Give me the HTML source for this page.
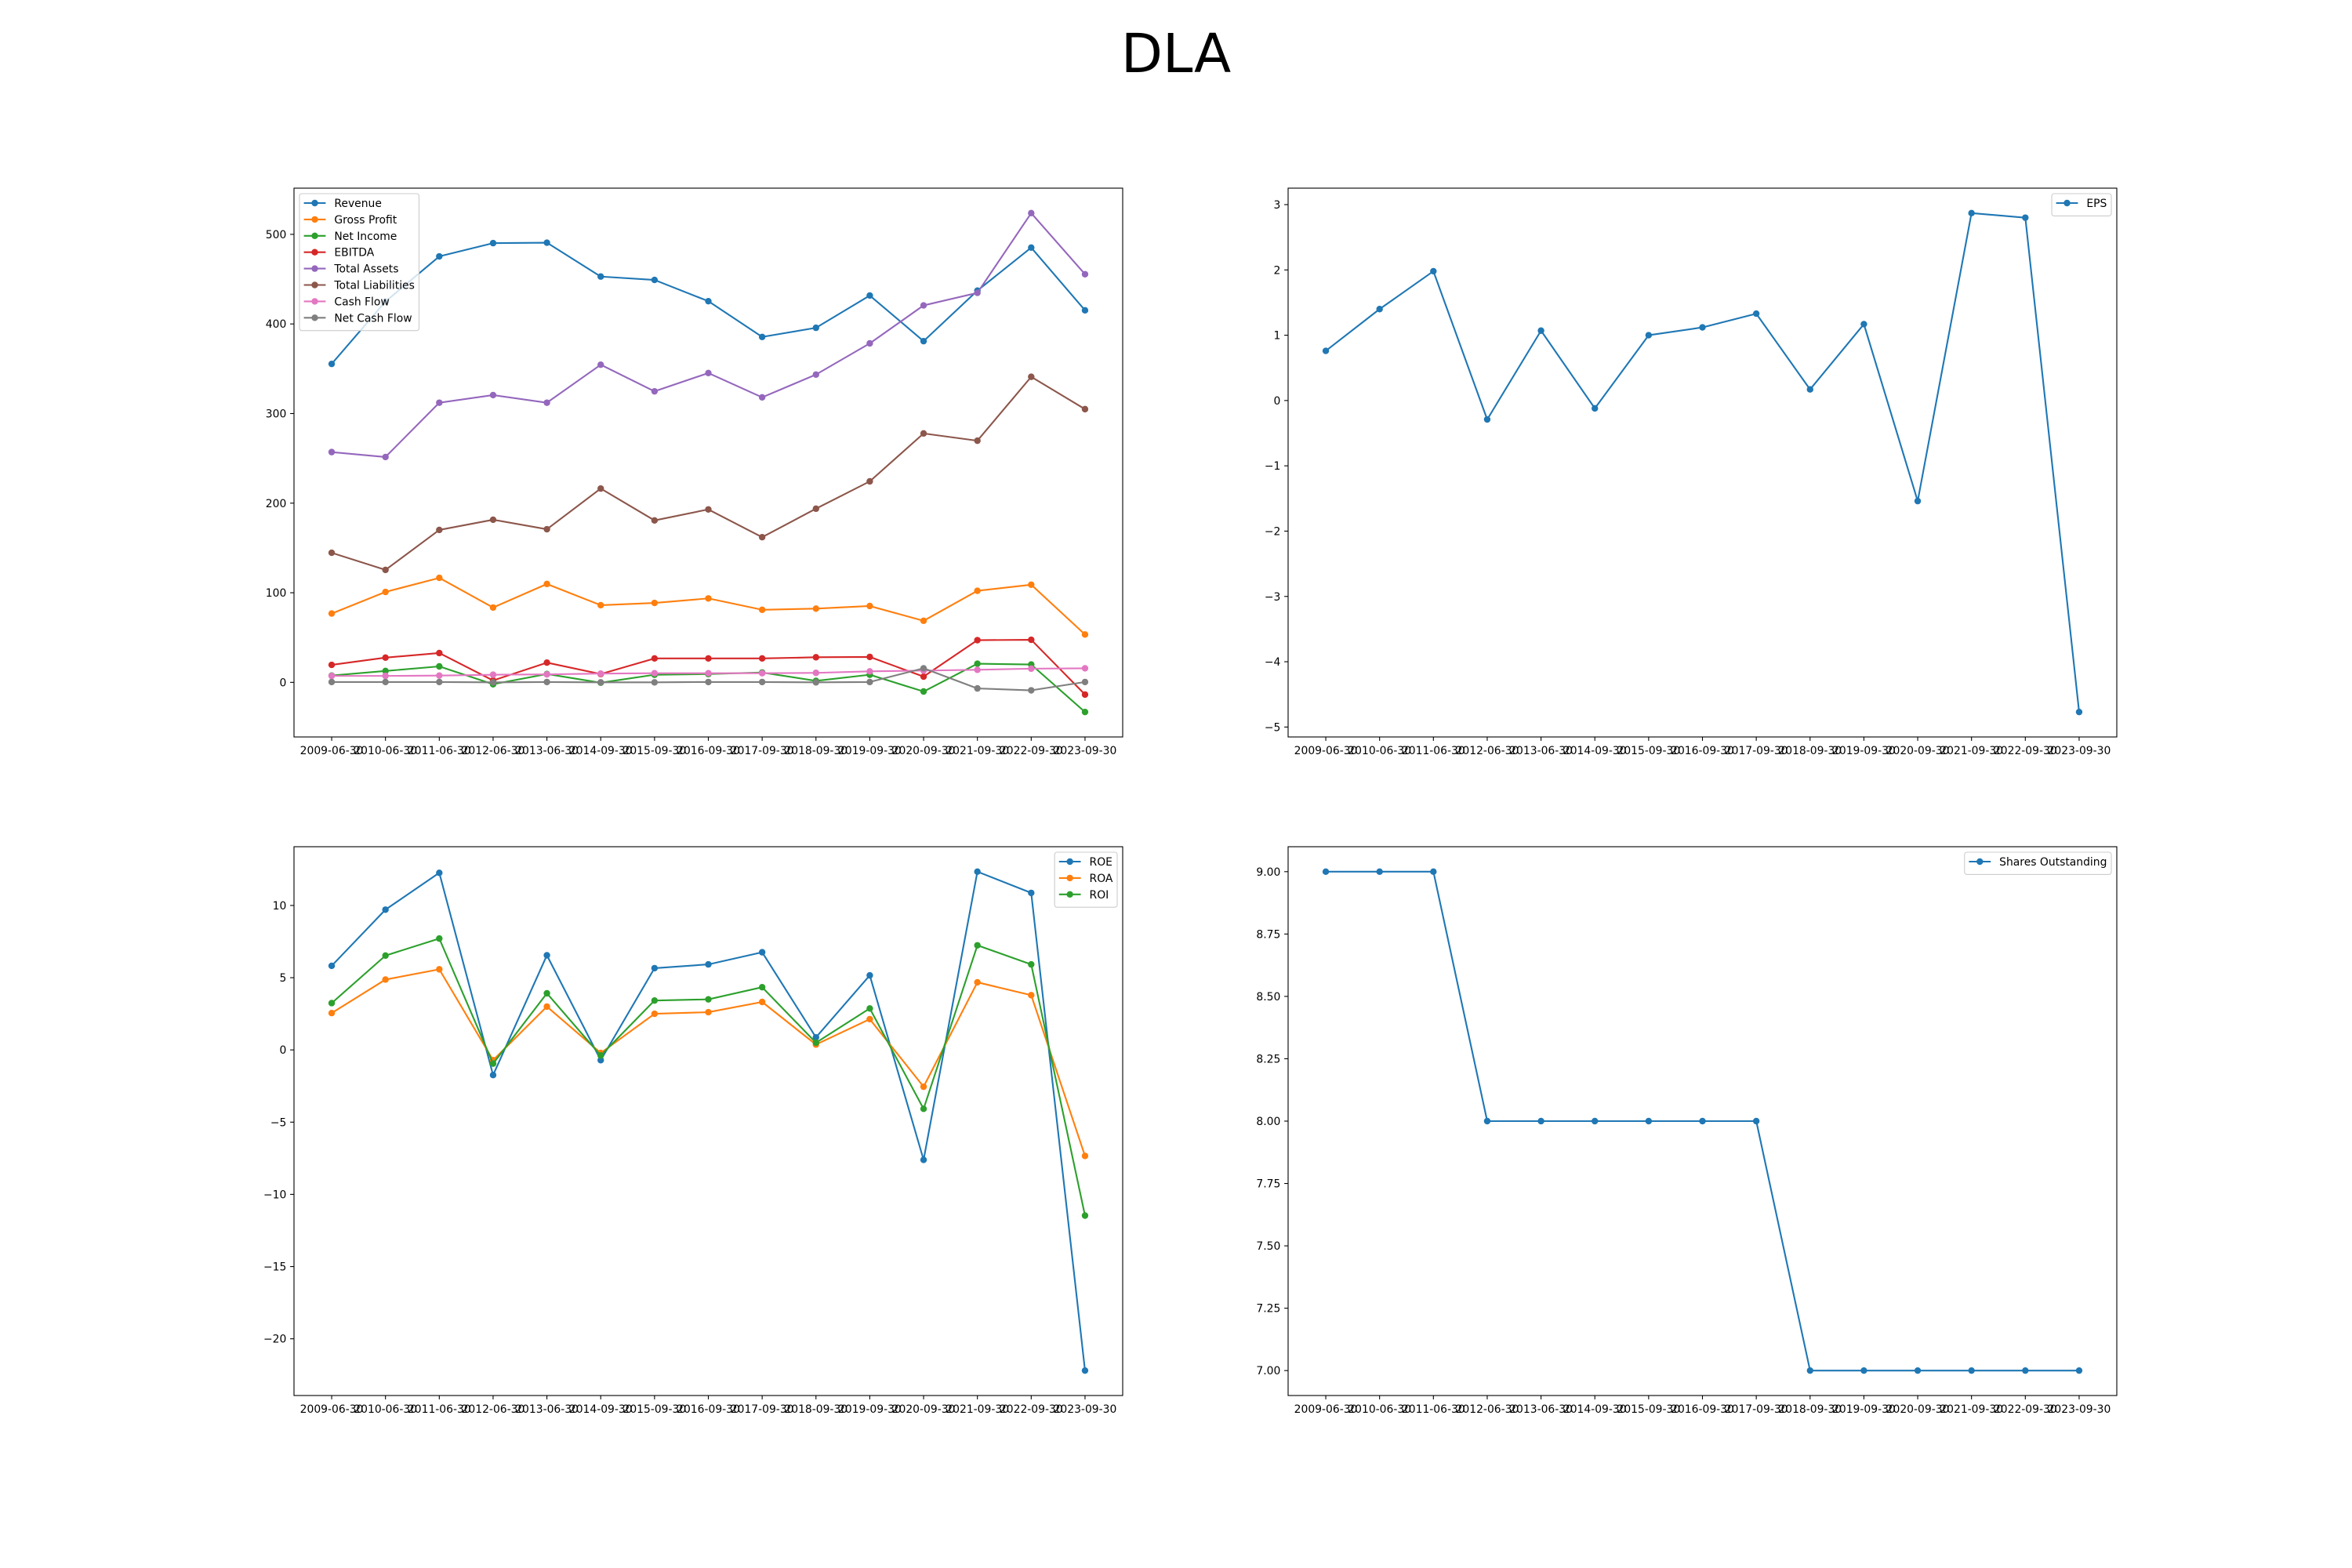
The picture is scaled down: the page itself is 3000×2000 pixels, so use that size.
<!DOCTYPE html>
<html><head><meta charset="utf-8"><style>
html,body{margin:0;padding:0;background:#fff;}
svg{display:block;font-family:"DejaVu Sans","Liberation Sans",sans-serif;}
</style></head><body>
<svg id="fig" width="3000" height="2000" viewBox="0 0 3000 2000" xmlns="http://www.w3.org/2000/svg">
<rect width="3000" height="2000" fill="#fff"/>
<text x="1500" y="92" text-anchor="middle" font-size="69" fill="#000">DLA</text>
</svg>
<script>
const categories = ["2009-06-30","2010-06-30","2011-06-30","2012-06-30","2013-06-30","2014-09-30","2015-09-30","2016-09-30","2017-09-30","2018-09-30","2019-09-30","2020-09-30","2021-09-30","2022-09-30","2023-09-30"];
const revenue = [355.4,425,475.4,490.2,490.7,452.9,449.1,425.4,385.5,395.7,431.7,380.8,437.2,485.2,415.2];
const grossProfit = [76.8,100.9,116.6,83.5,109.8,86.1,88.6,93.7,81,82.3,85.2,68.7,102.2,109,53.4];
const netIncome = [7.6,12.7,17.8,-2.1,9.3,-0.4,8.5,9.3,11,1.7,8.5,-10.2,20.8,19.9,-33.1];
const ebitda = [19.5,27.6,32.7,2.1,22,9.3,26.7,26.7,26.7,28,28.4,6.4,47.1,47.5,-13.6];
const totalAssets = [257,251.5,312.1,320.6,312.1,354.5,324.8,345.2,318.1,343.5,378.3,420.7,434.7,523.7,455.5];
const totalLiabilities = [144.6,125.5,170.1,181.5,170.9,216.3,180.7,193,162,193.8,224.3,277.8,269.7,341,304.9];
const cashFlow = [7.2,7.2,7.6,8.5,8.9,9.8,10.2,10.2,10.2,10.6,12.3,13.1,14,15.3,15.7];
const netCashFlow = [0.4,0.4,0.4,0,0.4,0,0,0.4,0.4,0,0.4,15.7,-6.8,-8.9,0.4];
const eps = [0.76,1.40,1.98,-0.29,1.07,-0.12,1.0,1.12,1.33,0.17,1.17,-1.54,2.87,2.80,-4.77];
const roe = [5.82,9.71,12.26,-1.74,6.55,-0.71,5.66,5.92,6.76,0.87,5.16,-7.61,12.34,10.87,-22.2];
const roa = [2.55,4.87,5.58,-0.71,3.0,-0.21,2.5,2.61,3.32,0.37,2.13,-2.55,4.68,3.79,-7.34];
const roi = [3.24,6.53,7.71,-0.95,3.92,-0.39,3.42,3.5,4.34,0.5,2.87,-4.08,7.24,5.92,-11.47];
const shares = [9,9,9,8,8,8,8,8,8,7,7,7,7,7,7];
const ticks1 = [0,100,200,300,400,500];
const ticks2 = [-5,-4,-3,-2,-1,0,1,2,3];
const ticks3 = [-20,-15,-10,-5,0,5,10];
const ticks4 = [7,7.25,7.5,7.75,8,8.25,8.5,8.75,9];
const tickLabels4 = ["7.00","7.25","7.50","7.75","8.00","8.25","8.50","8.75","9.00"];

const NS="http://www.w3.org/2000/svg";
const svg=document.getElementById('fig');
function mk(tag,attrs,parent){const e=document.createElementNS(NS,tag);for(const k in attrs)e.setAttribute(k,attrs[k]);(parent||svg).appendChild(e);return e;}

function chart(name,box,series,ticks,tickLabels,legendPos){
  const [L,T,W,H]=box;
  const g=mk('g',{});
  
  
  let mn=Infinity,mx=-Infinity;
  series.forEach(s=>s.data.forEach(v=>{mn=Math.min(mn,v);mx=Math.max(mx,v);}));
  const pad=(mx-mn)*0.05; const y0=mn-pad,y1=mx+pad;
  const n=categories.length;
  const xs=i=>L+(i+0.7)/(n-1+1.4)*W;
  const ys=v=>T+H-(v-y0)/(y1-y0)*H;
  // series
  series.forEach(s=>{
    const sg=mk('g',{},g);
    
    
    const pts=s.data.map((v,i)=>xs(i).toFixed(2)+','+ys(v).toFixed(2)).join(' ');
    const pl=mk('polyline',{points:pts,fill:'none',stroke:s.color,'stroke-width':2.1,'stroke-linejoin':'round','stroke-linecap':'square'},sg);
    
    
    s.data.forEach((v,i)=>{
      const c=mk('circle',{cx:xs(i),cy:ys(v),r:4.2,fill:s.color},sg);
      
      
    });
  });
  // frame
  const fr=mk('rect',{x:L,y:T,width:W,height:H,fill:'none',stroke:'#000','stroke-width':1.1},g);
  
  
  // x ticks
  const xa=mk('g',{},g);
  
  
  categories.forEach((c,i)=>{
    mk('line',{x1:xs(i),x2:xs(i),y1:T+H,y2:T+H+4.9,stroke:'#000','stroke-width':1.1},xa);
    const t=mk('text',{x:xs(i),y:T+H+22,'text-anchor':'middle','font-size':13.9,fill:'#000'},xa);
    
    
    t.textContent=c;
  });
  const ya=mk('g',{},g);
  
  
  ticks.forEach((v,i)=>{
    const y=ys(v);
    mk('line',{x1:L-4.9,x2:L,y1:y,y2:y,stroke:'#000','stroke-width':1.1},ya);
    const t=mk('text',{x:L-9.7,y:y+5,'text-anchor':'end','font-size':13.9,fill:'#000'},ya);
    
    
    t.textContent=tickLabels?tickLabels[i]:(v<0?'\u2212'+(-v):String(v));
  });
  // legend
  const lg=mk('g',{},g);
  
  
  const box2=mk('rect',{rx:3,fill:'#fff','fill-opacity':0.8,stroke:'#ccc','stroke-width':1.1},lg);
  const texts=series.map((s,i)=>{
    const t=mk('text',{'font-size':13.9,fill:'#000'},lg);
    
    
    t.textContent=s.label; return t;});
  let tw=0; texts.forEach(t=>tw=Math.max(tw,t.getComputedTextLength()));
  const bw=5.6+27.8+11+tw+5.6, bh=series.length*20.9+7.5;
  const bx=legendPos==='left'?L+7:L+W-7-bw, by=T+7;
  box2.setAttribute('x',bx);box2.setAttribute('y',by);box2.setAttribute('width',bw);box2.setAttribute('height',bh);
  series.forEach((s,i)=>{
    const cy=by+12+i*20.9;
    mk('line',{x1:bx+5.6,x2:bx+33.4,y1:cy,y2:cy,stroke:s.color,'stroke-width':2.1},lg);
    mk('circle',{cx:bx+19.5,cy:cy,r:4.2,fill:s.color},lg);
    texts[i].setAttribute('x',bx+44.4);texts[i].setAttribute('y',cy+5);
  });
}
const C=['#1f77b4','#ff7f0e','#2ca02c','#d62728','#9467bd','#8c564b','#e377c2','#7f7f7f'];
chart('financials-chart',[375,240,1057,700],[
 {key:'revenue',label:'Revenue',data:revenue,color:C[0]},
 {key:'gross-profit',label:'Gross Profit',data:grossProfit,color:C[1]},
 {key:'net-income',label:'Net Income',data:netIncome,color:C[2]},
 {key:'ebitda',label:'EBITDA',data:ebitda,color:C[3]},
 {key:'total-assets',label:'Total Assets',data:totalAssets,color:C[4]},
 {key:'total-liabilities',label:'Total Liabilities',data:totalLiabilities,color:C[5]},
 {key:'cash-flow',label:'Cash Flow',data:cashFlow,color:C[6]},
 {key:'net-cash-flow',label:'Net Cash Flow',data:netCashFlow,color:C[7]}],ticks1,null,'left');
chart('eps-chart',[1643,240,1057,700],[{key:'eps',label:'EPS',data:eps,color:C[0]}],ticks2,null,'right');
chart('returns-chart',[375,1080,1057,700],[
 {key:'roe',label:'ROE',data:roe,color:C[0]},
 {key:'roa',label:'ROA',data:roa,color:C[1]},
 {key:'roi',label:'ROI',data:roi,color:C[2]}],ticks3,null,'right');
chart('shares-chart',[1643,1080,1057,700],[{key:'shares-outstanding',label:'Shares Outstanding',data:shares,color:C[0]}],ticks4,tickLabels4,'right');
</script>
</body></html>
